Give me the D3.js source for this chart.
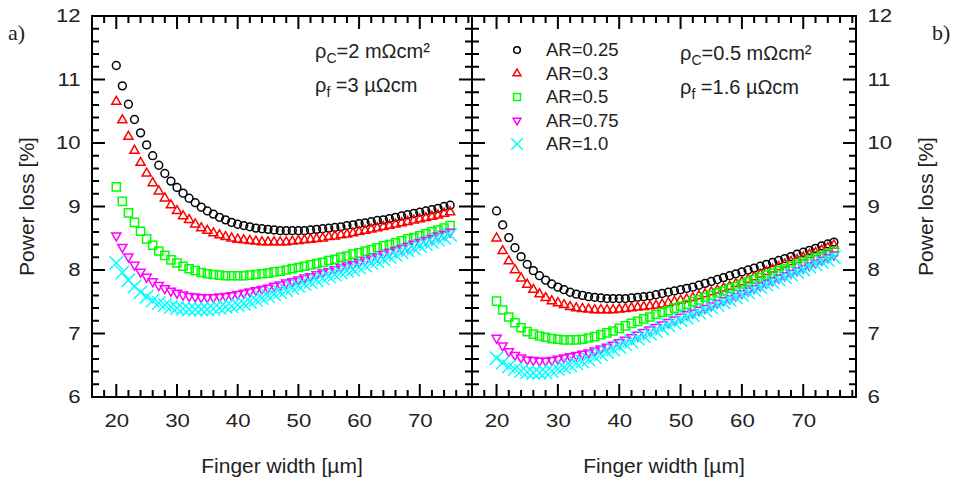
<!DOCTYPE html>
<html>
<head>
<meta charset="utf-8">
<script src="https://cdn.jsdelivr.net/npm/d3@7/dist/d3.min.js"></script>
<style>
    body { margin: 0; background: #fff; }
    svg text { font-family: 'Liberation Sans', Arial, Helvetica, sans-serif; fill: #222; }
</style>
</head>
<body>
<svg id="chart" width="956" height="481"></svg>
<script>
//
// DATA
//
// finger widths [µm], shared by all series
const widths = [20, 21, 22, 23, 24, 25, 26, 27, 28, 29, 30, 31, 32, 33, 34, 35, 36, 37, 38, 39,
    40, 41, 42, 43, 44, 45, 46, 47, 48, 49, 50, 51, 52, 53, 54, 55, 56, 57, 58, 59,
    60, 61, 62, 63, 64, 65, 66, 67, 68, 69, 70, 71, 72, 73, 74, 75]

const seriesLabels = ['AR=0.25', 'AR=0.3', 'AR=0.5', 'AR=0.75', 'AR=1.0']
const xTicks = [20, 30, 40, 50, 60, 70]
const yTicks = [6, 7, 8, 9, 10, 11, 12]

// panel a) power loss [%]
const lossA025 = [11.22, 10.90, 10.61, 10.37, 10.16, 9.97, 9.80, 9.65, 9.52, 9.40,
    9.30, 9.21, 9.13, 9.06, 8.99, 8.93, 8.88, 8.83, 8.79, 8.75,
    8.72, 8.70, 8.68, 8.66, 8.65, 8.64, 8.63, 8.62, 8.62, 8.62,
    8.62, 8.62, 8.63, 8.64, 8.65, 8.66, 8.67, 8.68, 8.70, 8.71,
    8.73, 8.74, 8.76, 8.78, 8.79, 8.81, 8.83, 8.85, 8.87, 8.89,
    8.91, 8.93, 8.95, 8.97, 9.00, 9.02]
const lossA03 = [10.65, 10.36, 10.10, 9.88, 9.69, 9.52, 9.37, 9.24, 9.13, 9.02,
    8.93, 8.85, 8.79, 8.72, 8.66, 8.62, 8.58, 8.55, 8.52, 8.50,
    8.48, 8.47, 8.46, 8.45, 8.44, 8.44, 8.44, 8.44, 8.44, 8.45,
    8.46, 8.47, 8.48, 8.49, 8.50, 8.52, 8.53, 8.55, 8.56, 8.58,
    8.60, 8.62, 8.64, 8.66, 8.68, 8.70, 8.72, 8.74, 8.76, 8.78,
    8.80, 8.82, 8.84, 8.86, 8.89, 8.91]
const lossA05 = [9.31, 9.08, 8.90, 8.75, 8.61, 8.49, 8.39, 8.30, 8.23, 8.16,
    8.11, 8.06, 8.02, 7.99, 7.96, 7.94, 7.93, 7.92, 7.91, 7.91,
    7.91, 7.91, 7.92, 7.93, 7.94, 7.95, 7.97, 7.98, 8.00, 8.02,
    8.04, 8.06, 8.08, 8.10, 8.12, 8.15, 8.17, 8.20, 8.22, 8.25,
    8.27, 8.30, 8.32, 8.35, 8.38, 8.40, 8.43, 8.46, 8.49, 8.51,
    8.54, 8.57, 8.60, 8.63, 8.66, 8.70]
const lossA075 = [8.54, 8.36, 8.21, 8.08, 7.97, 7.89, 7.82, 7.76, 7.71, 7.67,
    7.64, 7.61, 7.59, 7.58, 7.57, 7.57, 7.57, 7.58, 7.59, 7.60,
    7.62, 7.64, 7.66, 7.68, 7.70, 7.72, 7.75, 7.77, 7.80, 7.82,
    7.85, 7.88, 7.90, 7.93, 7.96, 7.98, 8.01, 8.04, 8.07, 8.09,
    8.12, 8.15, 8.18, 8.21, 8.25, 8.28, 8.31, 8.34, 8.37, 8.41,
    8.44, 8.47, 8.50, 8.54, 8.57, 8.60]
const lossA10 = [8.11, 7.96, 7.84, 7.74, 7.65, 7.58, 7.52, 7.48, 7.45, 7.42,
    7.40, 7.39, 7.38, 7.38, 7.38, 7.38, 7.39, 7.40, 7.42, 7.43,
    7.45, 7.47, 7.50, 7.53, 7.56, 7.59, 7.62, 7.65, 7.68, 7.72,
    7.75, 7.78, 7.81, 7.84, 7.87, 7.90, 7.93, 7.96, 7.99, 8.01,
    8.04, 8.07, 8.11, 8.14, 8.17, 8.21, 8.24, 8.28, 8.31, 8.34,
    8.38, 8.41, 8.44, 8.48, 8.51, 8.55]

// panel b) power loss [%]
const lossB025 = [8.93, 8.71, 8.51, 8.35, 8.21, 8.09, 7.99, 7.91, 7.84, 7.78,
    7.73, 7.69, 7.65, 7.62, 7.60, 7.58, 7.57, 7.56, 7.55, 7.55,
    7.55, 7.55, 7.56, 7.57, 7.58, 7.59, 7.61, 7.63, 7.65, 7.67,
    7.69, 7.71, 7.73, 7.76, 7.79, 7.82, 7.85, 7.88, 7.91, 7.94,
    7.97, 8.00, 8.03, 8.06, 8.09, 8.12, 8.15, 8.18, 8.21, 8.25,
    8.28, 8.31, 8.34, 8.38, 8.41, 8.44]
const lossB03 = [8.50, 8.30, 8.14, 8.00, 7.87, 7.77, 7.69, 7.62, 7.56, 7.51,
    7.48, 7.45, 7.42, 7.40, 7.39, 7.38, 7.37, 7.37, 7.37, 7.37,
    7.38, 7.39, 7.40, 7.41, 7.42, 7.43, 7.44, 7.46, 7.48, 7.50,
    7.52, 7.54, 7.56, 7.59, 7.62, 7.65, 7.68, 7.71, 7.74, 7.78,
    7.81, 7.85, 7.89, 7.93, 7.97, 8.01, 8.05, 8.09, 8.13, 8.16,
    8.20, 8.24, 8.27, 8.31, 8.35, 8.39]
const lossB05 = [7.51, 7.37, 7.26, 7.17, 7.09, 7.03, 6.99, 6.96, 6.94, 6.92,
    6.91, 6.90, 6.90, 6.90, 6.91, 6.93, 6.95, 6.98, 7.01, 7.04,
    7.08, 7.12, 7.16, 7.19, 7.23, 7.26, 7.30, 7.33, 7.36, 7.40,
    7.43, 7.46, 7.50, 7.53, 7.57, 7.60, 7.64, 7.67, 7.71, 7.74,
    7.78, 7.81, 7.85, 7.88, 7.92, 7.95, 7.99, 8.02, 8.06, 8.09,
    8.13, 8.16, 8.19, 8.22, 8.26, 8.29]
const lossB075 = [6.93, 6.81, 6.72, 6.66, 6.62, 6.59, 6.58, 6.57, 6.57, 6.58,
    6.60, 6.62, 6.64, 6.66, 6.68, 6.70, 6.73, 6.76, 6.79, 6.82,
    6.86, 6.90, 6.94, 6.98, 7.02, 7.06, 7.10, 7.14, 7.18, 7.22,
    7.26, 7.30, 7.33, 7.37, 7.40, 7.44, 7.48, 7.52, 7.55, 7.59,
    7.63, 7.67, 7.71, 7.75, 7.79, 7.83, 7.87, 7.91, 7.95, 7.99,
    8.03, 8.07, 8.11, 8.16, 8.20, 8.24]
const lossB10 = [6.61, 6.54, 6.48, 6.44, 6.41, 6.39, 6.38, 6.38, 6.39, 6.41,
    6.44, 6.47, 6.50, 6.53, 6.56, 6.59, 6.63, 6.67, 6.71, 6.75,
    6.79, 6.83, 6.87, 6.92, 6.96, 7.00, 7.04, 7.08, 7.13, 7.17,
    7.21, 7.25, 7.29, 7.33, 7.37, 7.41, 7.45, 7.49, 7.53, 7.57,
    7.61, 7.65, 7.69, 7.73, 7.77, 7.81, 7.85, 7.89, 7.93, 7.97,
    8.01, 8.05, 8.09, 8.13, 8.16, 8.20]

//
// GLOBALS
//
const plotTop = 16
const plotBottom = 397
const xDomain = [16, 78.6]
const yDomain = [6, 12]
// tick labels in the original are a bit wider than Arial
const tickStretch = 1.2

// marker style per series (same order as seriesLabels)
const markers = [
    { type: d3.symbolCircle, size: 48, rotate: 0, color: '#000000' },
    { type: d3.symbolTriangle2, size: 60, rotate: 0, color: '#ff0000' },
    { type: d3.symbolSquare2, size: 84, rotate: 0, color: '#00ff00' },
    { type: d3.symbolTriangle2, size: 60, rotate: 180, color: '#ff00ff' },
    { type: d3.symbolTimes, size: 120, rotate: 0, color: '#00ffff' }
]

const svg = d3.select('#chart')

// draws one marker at (x, y)
const drawMarker = (g, m, x, y, scale = 1) => {
    g.append('path')
        .attr('d', d3.symbol().type(m.type).size(m.size * scale * scale)())
        .attr('transform', `translate(${x},${y}) rotate(${m.rotate})`)
        .attr('fill', 'none')
        .attr('stroke', m.color)
        .attr('stroke-width', 1.5)
}

// styles a d3 axis group used for the labels only
const styleAxis = (g) => {
    g.attr('font-size', 18.5)
    g.select('.domain').remove()
    g.selectAll('.tick line').remove()
    g.selectAll('.tick text')
        .attr('fill', '#222')
        .attr('transform', `scale(${tickStretch},1)`)
}

// builds the inward tick marks of one edge as path commands
// dir = [dx, dy] points into the plot
const tickPath = (values, pos, dir, len) => values
    .map(v => {
        const [px, py] = pos(v)
        return `M${px},${py}l${dir[0] * len},${dir[1] * len}`
    })
    .join('')

// plots one panel with its frame, ticks and data
const plotPanel = (x0, x1, series, labelSide) => {
    const x = d3.scaleLinear().domain(xDomain).range([x0, x1])
    const y = d3.scaleLinear().domain(yDomain).range([plotBottom, plotTop])
    const xMinor = d3.range(18, 79, 2).filter(v => !xTicks.includes(v))
    const yMinor = d3.range(6, 12.01, 0.2).filter(v => Math.abs(v - Math.round(v)) > 0.01)

    const panel = svg.append('g').attr('class', 'panel')

    // 1) tick labels through d3 axes
    panel.append('g')
        .attr('transform', `translate(0,${plotBottom})`)
        .call(d3.axisBottom(x).tickValues(xTicks).tickSize(0).tickPadding(17).tickFormat(d3.format('d')))
        .call(styleAxis)
    const yAxis = labelSide === 'left' ? d3.axisLeft(y) : d3.axisRight(y)
    panel.append('g')
        .attr('transform', `translate(${labelSide === 'left' ? x0 : x1},0)`)
        .call(yAxis.tickValues(yTicks).tickSize(0).tickPadding(9.5).tickFormat(d3.format('d')))
        .call(styleAxis)

    // 2) the data markers
    series.forEach((vals, i) => {
        const g = panel.append('g').attr('class', 'series series-' + i)
        vals.forEach((v, j) => drawMarker(g, markers[i], x(widths[j]), y(v)))
    })

    // 3) frame
    panel.append('rect')
        .attr('x', x0)
        .attr('y', plotTop)
        .attr('width', x1 - x0)
        .attr('height', plotBottom - plotTop)
        .attr('fill', 'none')
        .attr('stroke', '#000')
        .attr('stroke-width', 2)

    // 4) tick marks on all four sides, pointing inwards, as one path
    const edges = [
        { pos: v => [x(v), plotBottom], dir: [0, -1], major: xTicks, minor: xMinor },
        { pos: v => [x(v), plotTop], dir: [0, 1], major: xTicks, minor: xMinor },
        { pos: v => [x0, y(v)], dir: [1, 0], major: yTicks, minor: yMinor },
        { pos: v => [x1, y(v)], dir: [-1, 0], major: yTicks, minor: yMinor }
    ]
    const d = edges.map(e => tickPath(e.major, e.pos, e.dir, 13) + tickPath(e.minor, e.pos, e.dir, 7)).join('')
    panel.append('path')
        .attr('class', 'ticks')
        .attr('d', d)
        .attr('fill', 'none')
        .attr('stroke', '#000')
        .attr('stroke-width', 2)

    // 5) x axis title
    panel.append('text')
        .attr('x', (x0 + x1) / 2)
        .attr('y', 473)
        .attr('text-anchor', 'middle')
        .attr('font-size', 21)
        .text('Finger width [µm]')
}

// writes the rho_c / rho_f annotation
const plotRho = (x, y, rc, rf) => {
    const t1 = svg.append('text').attr('x', x).attr('y', y).attr('font-size', 20)
    t1.append('tspan').text('ρ')
    t1.append('tspan').attr('dy', 5).attr('font-size', 14).text('C')
    t1.append('tspan').attr('dy', -5).text(rc)
    const t2 = svg.append('text').attr('x', x).attr('y', y + 34).attr('font-size', 20)
    t2.append('tspan').text('ρ')
    t2.append('tspan').attr('dy', 5).attr('font-size', 14).text('f')
    t2.append('tspan').attr('dy', -5).text(rf)
}

const plotYTitle = (x) => {
    svg.append('text')
        .attr('transform', `translate(${x},${(plotTop + plotBottom) / 2}) rotate(-90)`)
        .attr('text-anchor', 'middle')
        .attr('dy', '0.35em')
        .attr('font-size', 21)
        .text('Power loss [%]')
}

plotPanel(92, 472, [lossA025, lossA03, lossA05, lossA075, lossA10], 'left')
plotPanel(472, 856, [lossB025, lossB03, lossB05, lossB075, lossB10], 'right')

plotYTitle(27)
plotYTitle(926)

plotRho(315, 58, '=2 mΩcm²', ' =3 µΩcm')
plotRho(680, 60, '=0.5 mΩcm²', ' =1.6 µΩcm')

// legend in panel b)
const legend = svg.append('g').attr('class', 'legend')
seriesLabels.forEach((label, i) => {
    const ly = 50 + i * 23.5
    drawMarker(legend, markers[i], 517, ly, 0.85)
    legend.append('text')
        .attr('x', 546)
        .attr('y', ly)
        .attr('dy', '0.35em')
        .attr('font-size', 18.5)
        .text(label)
})

// panel letters
svg.append('text')
    .attr('x', 8).attr('y', 40)
    .attr('font-size', 22)
    .style('font-family', "'Liberation Serif', 'Times New Roman', serif")
    .text('a)')
svg.append('text')
    .attr('x', 932).attr('y', 40)
    .attr('font-size', 22)
    .style('font-family', "'Liberation Serif', 'Times New Roman', serif")
    .text('b)')
</script>
</body>
</html>
